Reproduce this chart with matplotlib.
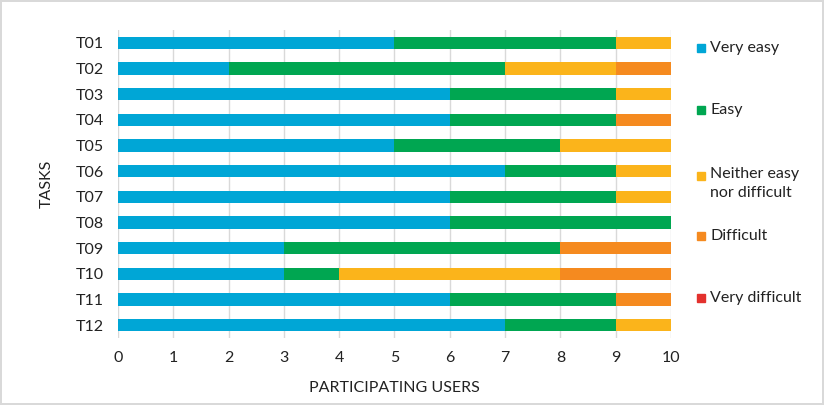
import matplotlib.pyplot as plt
from matplotlib.patches import Rectangle

tasks = ["T01", "T02", "T03", "T04", "T05", "T06", "T07", "T08", "T09", "T10", "T11", "T12"]
very_easy = [5, 2, 6, 6, 5, 7, 6, 6, 3, 3, 6, 7]
easy = [4, 5, 3, 3, 3, 2, 3, 4, 5, 1, 3, 2]
neither = [1, 2, 1, 0, 2, 1, 1, 0, 0, 4, 0, 1]
difficult = [0, 1, 0, 1, 0, 0, 0, 0, 2, 2, 1, 0]
very_difficult = [0, 0, 0, 0, 0, 0, 0, 0, 0, 0, 0, 0]

labels = ["Very easy", "Easy", "Neither easy\nnor difficult", "Difficult", "Very difficult"]
colors = ["#00a6d6", "#00a651", "#fbb41b", "#f58a1f", "#e3312d"]

plt.rcParams['font.family'] = ['Lato', 'DejaVu Sans']

fig = plt.figure(figsize=(8.24, 4.05), dpi=100)
fig.patch.set_edgecolor('#d9d9d9')
fig.patch.set_linewidth(1.5)
ax = fig.add_axes([0.1432, 0.1654, 0.6711, 0.7606])

series = [very_easy, easy, neither, difficult, very_difficult]
left = [0] * len(tasks)
for vals, col in zip(series, colors):
    ax.barh(tasks, vals, left=left, height=0.47, color=col, zorder=3)
    left = [a + b for a, b in zip(left, vals)]

ax.set_xlim(0, 10)
ax.set_ylim(11.5, -0.5)
ax.set_xticks(range(0, 11))
ax.grid(axis='x', color='#d9d9d9', linewidth=1, zorder=0)
for s in ax.spines.values():
    s.set_visible(False)
ax.tick_params(length=0, labelsize=11.5, colors='#222222')
ax.tick_params(axis='x', pad=9)
ax.tick_params(axis='y', pad=10)
ax.set_xlabel("PARTICIPATING USERS", fontsize=11.5, color='#222222', labelpad=12)
ax.set_ylabel("TASKS", fontsize=11.5, color='#222222', labelpad=16)

# legend drawn by hand to match uneven spacing
leg_y = [48, 110, 176, 236, 298]
for lab, col, y in zip(labels, colors, leg_y):
    yf = 1 - y / 405
    fig.patches.append(Rectangle((697 / 824, yf - 4 / 405), 8 / 824, 8 / 405,
                                 transform=fig.transFigure, color=col, figure=fig))
    if '\n' in lab:
        fig.text(710 / 824, yf + 9 / 405, lab, fontsize=11.5, color='#222222', va='top',
                 linespacing=1.45)
    else:
        fig.text(710 / 824, yf, lab, fontsize=11.5, color='#222222', va='center')

fig.savefig("out.png", dpi=100)
